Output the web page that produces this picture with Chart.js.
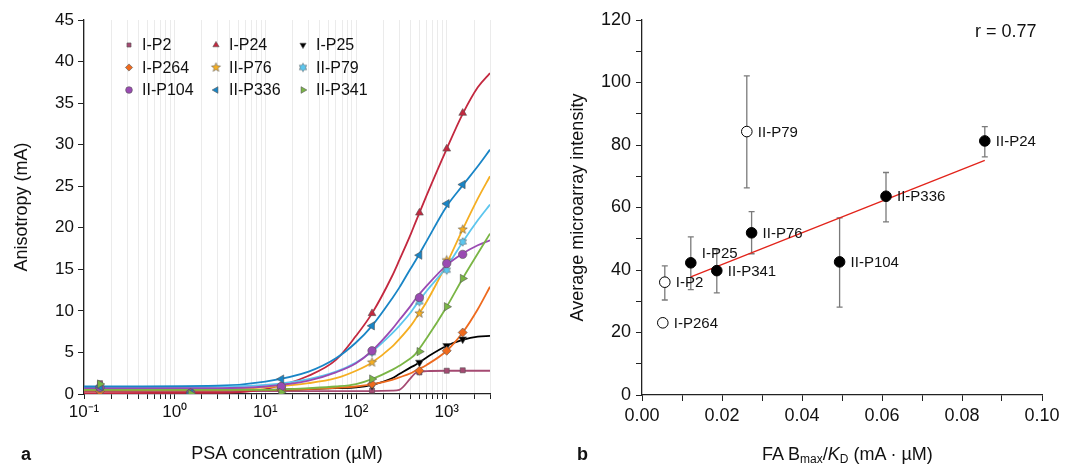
<!DOCTYPE html>
<html lang="en">
<head>
<meta charset="UTF-8" />
<title>PSA anisotropy and microarray intensity</title>
<script src="https://cdn.jsdelivr.net/npm/chart.js"></script>
<style>
  body { margin: 0; background: #fff; font-family: "Liberation Sans", Arial, Helvetica, sans-serif; color: #111; }
  .wrap { position: relative; width: 1071px; height: 468px; overflow: hidden; }
  canvas { position: absolute; top: 0; }
  #chartA { left: 0; }
  #chartB { left: 540px; }
  .tag { position: absolute; font-weight: bold; font-size: 18px; }
  .xtitle { position: absolute; font-size: 18px; white-space: nowrap; }
  .xtitle sub { font-size: 12px; vertical-align: -3px; }
  .rval { position: absolute; font-size: 18px; }
</style>
</head>
<body>
<div class="wrap">
  <canvas id="chartA" width="540" height="468"></canvas>
  <canvas id="chartB" width="531" height="468"></canvas>
  <div class="tag" style="left:21px; top:444px">a</div>
  <div class="tag" style="left:577px; top:444px">b</div>
  <div class="xtitle" style="left:762px; top:444px">FA B<sub>max</sub>/<i>K</i><sub>D</sub> (mA · µM)</div>
  <div class="rval" style="left:975px; top:21px">r = 0.77</div>
</div>

<script>
  // ---------- panel a : fluorescence anisotropy titrations ----------
  const peptides = ["I-P2", "I-P24", "I-P25", "I-P264", "II-P76", "II-P79", "II-P104", "II-P336", "II-P341"];

  // measured points (µM -> mA)
  const concUM = [0.15, 1.5, 15, 150, 500, 1000, 1500];
  const ptsIP2 = [1.3, 0.1, 0.3, 0.4, 2.6, 2.8, 2.85];
  const ptsIP24 = [0.1, 0.0, 0.8, 9.7, 21.8, 29.5, 33.8];
  const ptsIP25 = [0.4, 0.1, 0.5, 1.0, 3.8, 5.8, 6.6];
  const ptsIP264 = [0.3, 0.1, 0.5, 1.2, 2.8, 5.2, 7.4];
  const ptsIIP76 = [0.6, 0.1, 0.7, 3.8, 9.7, 16.1, 19.8];
  const ptsIIP79 = [0.7, 0.1, 0.9, 5.0, 11.1, 14.9, 18.3];
  const ptsIIP104 = [0.8, 0.1, 0.9, 5.2, 11.6, 15.7, 16.8];
  const ptsIIP336 = [0.9, 0.1, 1.8, 8.2, 16.7, 22.9, 25.2];
  const ptsIIP341 = [1.2, 0.05, 0.2, 1.8, 5.1, 10.5, 13.9];

  // fitted binding curves
  const curveConc = [0.1, 3, 10, 30, 60, 100, 150, 250, 300, 400, 450, 600, 1000, 1500, 2200, 3000];
  const fitIP2 = [0.35, 0.35, 0.35, 0.35, 0.35, 0.35, 0.35, 0.4, 0.5, 1.9, 2.5, 2.75, 2.8, 2.8, 2.8, 2.8];
  const fitIP24 = [0.1, 0.15, 0.6, 2.2, 4.1, 7.0, 9.7, 14.2, 16.1, 19.2, 20.6, 23.9, 29.5, 33.7, 36.9, 38.6];
  const fitIP25 = [0.5, 0.5, 0.5, 0.6, 0.7, 0.8, 1.1, 1.9, 2.4, 3.2, 3.5, 4.4, 5.8, 6.5, 6.9, 7.0];
  const fitIP264 = [0.45, 0.45, 0.5, 0.6, 0.75, 0.9, 1.15, 1.7, 2.0, 2.5, 2.8, 3.5, 5.2, 7.4, 10.2, 12.9];
  const fitIIP76 = [0.6, 0.6, 0.8, 1.3, 1.9, 2.8, 3.8, 5.7, 6.6, 8.2, 9.0, 11.1, 15.7, 19.8, 23.5, 26.2];
  const fitIIP79 = [0.8, 0.9, 1.1, 1.8, 2.7, 3.8, 5.1, 7.3, 8.2, 9.8, 10.6, 12.4, 15.3, 18.3, 20.9, 22.8];
  const fitIIP104 = [0.7, 0.7, 0.9, 1.6, 2.6, 3.7, 5.2, 7.8, 8.9, 10.6, 11.4, 13.0, 15.5, 16.9, 17.9, 18.5];
  const fitIIP336 = [0.9, 1.0, 1.5, 2.7, 4.3, 6.2, 8.2, 11.5, 12.8, 15.1, 16.0, 18.4, 22.6, 25.1, 27.4, 29.4];
  const fitIIP341 = [0.5, 0.5, 0.5, 0.7, 0.9, 1.2, 1.8, 2.9, 3.4, 4.3, 4.8, 6.7, 10.5, 13.9, 16.9, 19.3];

  const decadeTicks = [0.1, 1, 10, 100, 1000];
  const decadeLabels = ["10⁻¹", "10⁰", "10¹", "10²", "10³"];

  const measured = [ptsIP2, ptsIP24, ptsIP25, ptsIP264, ptsIIP76, ptsIIP79, ptsIIP104, ptsIIP336, ptsIIP341];
  const fitted = [fitIP2, fitIP24, fitIP25, fitIP264, fitIIP76, fitIIP79, fitIIP104, fitIIP336, fitIIP341];

  // ---------- panel b : microarray vs FA ----------
  const arrayPeptides = ["I-P264", "I-P2", "I-P25", "II-P341", "II-P79", "II-P76", "II-P104", "II-P336", "II-P24"];
  const faBmaxKd = [0.0052, 0.0057, 0.0122, 0.0187, 0.0262, 0.0274, 0.0494, 0.0610, 0.0857];
  const avgIntensity = [23.1, 36.1, 42.3, 39.8, 84.3, 51.9, 42.6, 63.6, 81.3];
  const intensityLow = [22.0, 30.4, 33.7, 32.7, 66.3, 45.2, 28.1, 55.4, 76.2];
  const intensityHigh = [24.2, 41.3, 50.6, 46.5, 102.1, 58.7, 56.7, 71.2, 85.9];
  const outsideFit = [true, true, false, false, true, false, false, false, false];
  const fitLineX = [0.0122, 0.0857];
  const fitLineY = [37.8, 75.1];
  const bXTickLabels = ["0.00", "", "0.02", "", "0.04", "", "0.06", "", "0.08", "", "0.10"];

  const FONT = '"Liberation Sans", Arial, Helvetica, sans-serif';
  Chart.defaults.font.family = FONT;
  Chart.defaults.color = "#111";

  // filled star marker as a small canvas
  function starMarker(points, outer, inner, fill) {
    const size = Math.ceil(outer * 2 + 3);
    const c = document.createElement("canvas");
    c.width = c.height = size;
    const g = c.getContext("2d");
    g.translate(size / 2, size / 2);
    g.beginPath();
    for (let k = 0; k < points * 2; k++) {
      const r = k % 2 ? inner : outer;
      const a = -Math.PI / 2 + (k * Math.PI) / points;
      g.lineTo(r * Math.cos(a), r * Math.sin(a));
    }
    g.closePath();
    g.fillStyle = fill;
    g.fill();
    g.strokeStyle = "#666";
    g.lineWidth = 0.6;
    g.stroke();
    return c;
  }

  const looks = [
    { color: "#a54a72", shape: "rect", rotation: 0, r: 3.6 },
    { color: "#c3283f", shape: "triangle", rotation: 0, r: 4.5 },
    { color: "#000000", shape: "triangle", rotation: 180, r: 4.5 },
    { color: "#ee6a1e", shape: "rectRot", rotation: 0, r: 4.5 },
    { color: "#f5ae22", shape: starMarker(5, 4.8, 2.1, "#f5ae22"), rotation: 0, r: 4.5 },
    { color: "#5cc6ee", shape: starMarker(6, 4.3, 2.6, "#5cc6ee"), rotation: 0, r: 4.5 },
    { color: "#9a4ab2", shape: "circle", rotation: 0, r: 4.2 },
    { color: "#1985c6", shape: "triangle", rotation: 270, r: 4.8 },
    { color: "#7ab545", shape: "triangle", rotation: 90, r: 4.8 },
  ];

  const pointSets = [];
  const curveSets = [];
  for (let i = peptides.length - 1; i >= 0; i--) {
    pointSets.push({
      label: peptides[i],
      data: concUM.map((c, k) => ({ x: c, y: measured[i][k] })),
      showLine: false,
      pointStyle: looks[i].shape,
      rotation: looks[i].rotation,
      pointRadius: looks[i].r,
      backgroundColor: looks[i].color,
      borderColor: "#555",
      borderWidth: 0.6,
    });
    curveSets.push({
      label: peptides[i] + " fit",
      data: curveConc.map((c, k) => ({ x: c, y: fitted[i][k] })),
      showLine: true,
      pointRadius: 0,
      borderColor: looks[i].color,
      borderWidth: 1.8,
      cubicInterpolationMode: "monotone",
    });
  }

  const gridLegend = {
    id: "gridLegend",
    afterDraw(chart) {
      const ctx = chart.ctx;
      ctx.save();
      ctx.font = "16px " + FONT;
      ctx.textBaseline = "middle";
      peptides.forEach((name, i) => {
        const x = 129 + (i % 3) * 87;
        const y = 45 + Math.floor(i / 3) * 22.5;
        ctx.fillStyle = looks[i].color;
        ctx.strokeStyle = "#555";
        ctx.lineWidth = 0.6;
        Chart.helpers.drawPoint(ctx, {
          pointStyle: looks[i].shape,
          rotation: looks[i].rotation,
          radius: looks[i].r * 0.8,
          borderWidth: 0.6,
        }, x, y);
        ctx.fillStyle = "#111";
        ctx.fillText(name, x + 13, y + 1);
      });
      ctx.restore();
    },
  };

  new Chart(document.getElementById("chartA"), {
    type: "scatter",
    data: { datasets: pointSets.concat(curveSets) },
    options: {
      responsive: false,
      animation: false,
      layout: { padding: { top: 20, right: 50, bottom: 3, left: 0 } },
      plugins: { legend: { display: false }, tooltip: { enabled: false } },
      scales: {
        x: {
          type: "logarithmic",
          min: 0.1,
          max: 3000,
          afterBuildTicks(scale) {
            const ticks = [];
            decadeTicks.forEach((d) => {
              for (let m = 1; m <= 9; m++) {
                if (d * m <= 3000.001) ticks.push({ value: d * m, major: m === 1 });
              }
            });
            scale.ticks = ticks;
          },
          afterFit(scale) { scale.height = 71; },
          grid: { color: "#ebebeb", lineWidth: 1, tickColor: "#222", tickLength: 5 },
          border: { color: "#222", width: 1.3 },
          ticks: {
            autoSkip: false,
            maxRotation: 0,
            padding: 3,
            font: { size: 17 },
            callback: (v, i, ticks) => (ticks[i].major ? decadeLabels[Math.round(Math.log10(v)) + 1] : ""),
          },
          title: { display: true, text: "PSA concentration (µM)", font: { size: 18 }, padding: { top: 0, bottom: 0 } },
        },
        y: {
          min: 0,
          max: 45,
          afterFit(scale) { scale.width = 84; },
          grid: { drawOnChartArea: false, tickColor: "#222", tickLength: 6 },
          border: { color: "#222", width: 1.3 },
          ticks: { stepSize: 5, padding: 4, font: { size: 17 } },
          title: { display: true, text: "Anisotropy (mA)", font: { size: 18 }, padding: { top: 11, bottom: 0 } },
        },
      },
    },
    plugins: [gridLegend],
  });

  // ---------- panel b ----------
  const errorBars = {
    id: "errorBars",
    beforeDatasetsDraw(chart) {
      const { ctx, scales: { x, y } } = chart;
      ctx.save();
      ctx.strokeStyle = "#7a7a7a";
      ctx.lineWidth = 1.3;
      faBmaxKd.forEach((fx, i) => {
        const px = x.getPixelForValue(fx);
        const top = y.getPixelForValue(intensityHigh[i]);
        const bot = y.getPixelForValue(intensityLow[i]);
        ctx.beginPath();
        ctx.moveTo(px, top);
        ctx.lineTo(px, bot);
        ctx.moveTo(px - 3, top);
        ctx.lineTo(px + 3, top);
        ctx.moveTo(px - 3, bot);
        ctx.lineTo(px + 3, bot);
        ctx.stroke();
      });
      ctx.restore();
    },
  };

  const pointNames = {
    id: "pointNames",
    afterDatasetsDraw(chart) {
      const { ctx, scales: { x, y } } = chart;
      ctx.save();
      ctx.font = "15px " + FONT;
      ctx.fillStyle = "#111";
      ctx.textBaseline = "middle";
      arrayPeptides.forEach((name, i) => {
        const px = x.getPixelForValue(faBmaxKd[i]);
        const py = y.getPixelForValue(avgIntensity[i]);
        const lift = name === "I-P25" ? -9 : 1;
        ctx.fillText(name, px + 11, py + lift);
      });
      ctx.restore();
    },
  };

  new Chart(document.getElementById("chartB"), {
    type: "scatter",
    data: {
      datasets: [
        {
          label: "Peptides",
          data: faBmaxKd.map((fx, i) => ({ x: fx, y: avgIntensity[i] })),
          pointRadius: 5.3,
          pointBackgroundColor: outsideFit.map((o) => (o ? "#ffffff" : "#000000")),
          pointBorderColor: "#000",
          pointBorderWidth: 1,
        },
        {
          label: "Linear fit",
          data: fitLineX.map((fx, i) => ({ x: fx, y: fitLineY[i] })),
          showLine: true,
          pointRadius: 0,
          borderColor: "#e2231a",
          borderWidth: 1.3,
        },
      ],
    },
    options: {
      responsive: false,
      animation: false,
      layout: { padding: { top: 20, right: 29, bottom: 3, left: 0 } },
      plugins: { legend: { display: false }, tooltip: { enabled: false } },
      scales: {
        x: {
          type: "linear",
          min: 0,
          max: 0.1,
          afterFit(scale) { scale.height = 70; },
          grid: { drawOnChartArea: false, tickColor: "#222", tickLength: 6 },
          border: { color: "#222", width: 1.3 },
          ticks: { stepSize: 0.01, autoSkip: false, maxRotation: 0, padding: 4, font: { size: 18 }, callback: (v, i) => bXTickLabels[i] },
        },
        y: {
          min: 0,
          max: 120,
          afterFit(scale) { scale.width = 102; },
          grid: { drawOnChartArea: false, tickColor: "#222", tickLength: 6 },
          border: { color: "#222", width: 1.3 },
          ticks: { stepSize: 10, padding: 5, font: { size: 18 }, callback: (v) => (v % 20 === 0 ? v : "") },
          title: { display: true, text: "Average microarray intensity", font: { size: 18 }, padding: { top: 27, bottom: 0 } },
        },
      },
    },
    plugins: [errorBars, pointNames],
  });
</script>
</body>
</html>
